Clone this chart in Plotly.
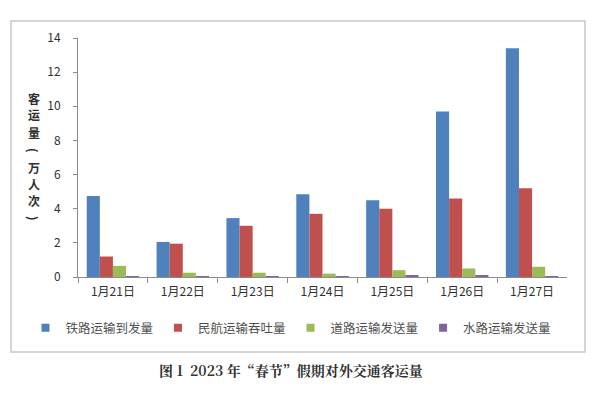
import plotly.graph_objects as go

dates = ["1月21日", "1月22日", "1月23日", "1月24日", "1月25日", "1月26日", "1月27日"]
rail = [4.75, 2.05, 3.45, 4.85, 4.5, 9.7, 13.4]
air = [1.2, 1.95, 3.0, 3.7, 4.0, 4.6, 5.2]
road = [0.65, 0.25, 0.25, 0.2, 0.4, 0.5, 0.6]
water = [0.02, 0.02, 0.02, 0.03, 0.1, 0.08, 0.05]
series_names = ["铁路运输到发量", "民航运输吞吐量", "道路运输发送量", "水路运输发送量"]
colors = ["#4F81BD", "#C0504D", "#9BBB59", "#8064A2"]
y_ticks = [0, 2, 4, 6, 8, 10, 12, 14]
y_title_chars = ["客", "运", "量", "(", "万", "人", "次", ")"]

font_cjk = "Noto Sans CJK SC, Noto Sans, sans-serif"

fig = go.Figure()
for name, vals, col in zip(series_names, [rail, air, road, water], colors):
    fig.add_trace(go.Bar(x=dates, y=vals, name=name, showlegend=False,
                         marker=dict(color=col, line=dict(width=0))))
# legend entries with small square markers
for name, col in zip(series_names, colors):
    fig.add_trace(go.Scatter(x=[None], y=[None], mode="markers", name=name,
                             marker=dict(symbol="square", size=8, color=col)))

annotations = []
y_positions = [98, 115, 132, 150, 167, 184, 201, 218]
for ch, yp in zip(y_title_chars, y_positions):
    annotations.append(dict(
        text="<b>" + ch + "</b>", xref="paper", yref="paper",
        x=34 / 600, y=1 - yp / 400, xanchor="center", yanchor="middle", showarrow=False,
        textangle=90 if ch in "()" else 0, borderpad=0,
        font=dict(size=12, color="#303030", family=font_cjk)))
annotations.append(dict(
    text="<b>图 1  2023 年“春节”假期对外交通客运量</b>", xref="paper", yref="paper",
    x=0.485, y=0.075, xanchor="center", yanchor="middle", showarrow=False,
    font=dict(size=14, color="#333333", family="Noto Serif CJK SC, Noto Sans CJK SC, serif")))

fig.update_layout(
    width=600, height=400, autosize=False,
    margin=dict(l=0, r=0, t=0, b=0, pad=0, autoexpand=False),
    paper_bgcolor="white", plot_bgcolor="white",
    barmode="group", bargap=0.25, bargroupgap=0,
    font=dict(family=font_cjk, color="#404040"),
    xaxis=dict(domain=[0.13, 0.945], showline=True, linecolor="#8c8c8c", linewidth=1,
               ticks="outside", tickson="boundaries", ticklen=5, tickcolor="#8c8c8c",
               tickfont=dict(size=12, color="#303030"), showgrid=False, ticklabelstandoff=4,
               automargin=False),
    yaxis=dict(domain=[0.3075, 0.905], range=[0, 14], tickvals=y_ticks,
               showline=True, linecolor="#8c8c8c", linewidth=1,
               ticks="outside", ticklen=4, tickcolor="#8c8c8c", ticklabelstandoff=10,
               tickfont=dict(size=12, color="#303030"), showgrid=False, zeroline=False,
               automargin=False),
    legend=dict(orientation="h", x=0.485, xanchor="center", y=0.18, yanchor="middle",
                font=dict(size=12.5, color="#505050"), itemwidth=30, tracegroupgap=0,
                traceorder="normal", bgcolor="rgba(0,0,0,0)"),
    showlegend=True,
    shapes=[dict(type="rect", xref="paper", yref="paper", x0=0.0183, x1=0.975, y0=0.12, y1=0.9475,
                 line=dict(color="#c8c8c8", width=1.5))],
    annotations=annotations,
)

fig.write_html("out.html", config={"displayModeBar": False},
               post_script="document.body.style.margin='0';document.body.style.overflow='hidden';")
